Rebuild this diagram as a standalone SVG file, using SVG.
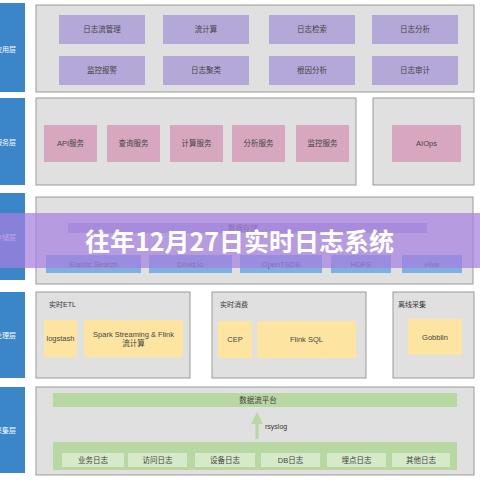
<svg xmlns="http://www.w3.org/2000/svg" width="480" height="480" viewBox="0 0 480 480">
<style>
.layer{fill:#3b86c9}
.lt{fill:#fff;font-family:"Noto Sans CJK SC",sans-serif;font-size:7px;text-anchor:end}
.box{fill:#e0e0e0;stroke:#9a9a9a;stroke-width:1}
.pu{fill:#b4a8d8}
.pk{fill:#d6a7be}
.bl{fill:#7fb0df}
.ye{fill:#fee4a1}
.gr{fill:#b7d7a3}
.lg{fill:#d6e9c9}
.t{fill:#444;font-family:"Liberation Sans","Noto Sans CJK SC",sans-serif;font-size:7.5px;text-anchor:middle;dominant-baseline:central}
.h{fill:#333;font-family:"Liberation Sans","Noto Sans CJK SC",sans-serif;font-size:7px}
</style>
<defs>
<marker id="ah" markerWidth="4" markerHeight="4" refX="2" refY="2" orient="auto" markerUnits="strokeWidth">
<path d="M0,0 L4,2 L0,4 z" fill="#b7d7a3"/>
</marker>
</defs>
<rect width="480" height="480" fill="#fff"/>

<g id="layers">
<rect class="layer" x="-2" y="3" width="27" height="89"/>
<text class="lt" x="16" y="52">应用层</text>
<rect class="layer" x="-2" y="98" width="27" height="87"/>
<text class="lt" x="16" y="145">服务层</text>
<rect class="layer" x="-2" y="193" width="27" height="87"/>
<text class="lt" x="16" y="240">存储层</text>
<rect class="layer" x="-2" y="292" width="27" height="86"/>
<text class="lt" x="16" y="338">处理层</text>
<rect class="layer" x="-2" y="387" width="27" height="86"/>
<text class="lt" x="16" y="433">采集层</text>
</g>

<g id="app">
<rect class="box" x="36" y="5" width="438" height="87"/>
<g id="a1"><rect class="pu" x="59" y="15" width="86" height="29"/><text class="t" x="102" y="29.5">日志流管理</text></g>
<g id="a2"><rect class="pu" x="163" y="15" width="86" height="29"/><text class="t" x="206" y="29.5">流计算</text></g>
<g id="a3"><rect class="pu" x="269" y="15" width="86" height="29"/><text class="t" x="312" y="29.5">日志检索</text></g>
<g id="a4"><rect class="pu" x="372" y="15" width="86" height="29"/><text class="t" x="415" y="29.5">日志分析</text></g>
<g id="a5"><rect class="pu" x="59" y="56" width="86" height="29"/><text class="t" x="102" y="70.5">监控报警</text></g>
<g id="a6"><rect class="pu" x="163" y="56" width="86" height="29"/><text class="t" x="206" y="70.5">日志聚类</text></g>
<g id="a7"><rect class="pu" x="269" y="56" width="86" height="29"/><text class="t" x="312" y="70.5">根因分析</text></g>
<g id="a8"><rect class="pu" x="372" y="56" width="86" height="29"/><text class="t" x="415" y="70.5">日志审计</text></g>
</g>

<g id="service">
<rect class="box" x="36" y="98" width="320" height="87"/>
<g id="s1"><rect class="pk" x="44" y="125" width="53" height="37"/><text class="t" x="70.5" y="143.5">API服务</text></g>
<g id="s2"><rect class="pk" x="107" y="125" width="53" height="37"/><text class="t" x="133.5" y="143.5">查询服务</text></g>
<g id="s3"><rect class="pk" x="170" y="125" width="53" height="37"/><text class="t" x="196.5" y="143.5">计算服务</text></g>
<g id="s4"><rect class="pk" x="232" y="125" width="53" height="37"/><text class="t" x="258.5" y="143.5">分析服务</text></g>
<g id="s5"><rect class="pk" x="296" y="125" width="53" height="37"/><text class="t" x="322.5" y="143.5">监控服务</text></g>
<rect class="box" x="373" y="98" width="101" height="87"/>
<g id="s6"><rect class="pk" x="392" y="125" width="69" height="37"/><text class="t" x="426.5" y="143.5">AIOps</text></g>
</g>

<g id="storage">
<rect class="box" x="36" y="197" width="437" height="87"/>
<rect class="pu" x="68" y="223" width="359" height="10"/>
<text class="t" x="243" y="228">数据存储</text>
<g id="d1"><rect class="bl" x="46" y="255" width="95" height="18"/><text class="t" x="93.5" y="264">Elastic Search</text></g>
<g id="d2"><rect class="bl" x="149" y="255" width="83" height="18"/><text class="t" x="190.5" y="264">Druid.io</text></g>
<g id="d3"><rect class="bl" x="240" y="255" width="82" height="18"/><text class="t" x="281" y="264">OpenTSDB</text></g>
<g id="d4"><rect class="bl" x="331" y="255" width="60" height="18"/><text class="t" x="361" y="264">HDFS</text></g>
<g id="d5"><rect class="bl" x="402" y="255" width="60" height="18"/><text class="t" x="432" y="264">Hive</text></g>
</g>

<g id="process">
<rect class="box" x="36" y="292" width="154" height="86"/>
<text class="h" x="49" y="307">实时ETL</text>
<g id="p1"><rect class="ye" x="44" y="320" width="33" height="37"/><text class="t" x="60.5" y="338.5">logstash</text></g>
<g id="p2"><rect class="ye" x="84" y="320" width="99" height="37"/><text class="t" x="133.5" y="334">Spark Streaming &amp; Flink</text><text class="t" x="133.5" y="343">流计算</text></g>
<rect class="box" x="212" y="292" width="154" height="86"/>
<text class="h" x="220" y="307">实时消费</text>
<g id="p3"><rect class="ye" x="218" y="321" width="34" height="37"/><text class="t" x="235" y="339.5">CEP</text></g>
<g id="p4"><rect class="ye" x="257" y="321" width="99" height="37"/><text class="t" x="306.5" y="339.5">Flink SQL</text></g>
<rect class="box" x="393" y="292" width="81" height="86"/>
<text class="h" x="398" y="307">离线采集</text>
<g id="p5"><rect class="ye" x="408" y="319" width="54" height="36"/><text class="t" x="435" y="337">Gobblin</text></g>
</g>

<g id="collect">
<rect class="box" x="36" y="387" width="438" height="88"/>
<g id="c0"><rect class="gr" x="53" y="393" width="404" height="14"/><text class="t" x="258" y="400">数据流平台</text></g>
<rect class="gr" x="53" y="442" width="404" height="28"/>
<g id="c1"><rect class="lg" x="62" y="453" width="62" height="14"/><text class="t" x="93" y="460">业务日志</text></g>
<g id="c2"><rect class="lg" x="128" y="453" width="59" height="14"/><text class="t" x="157.5" y="460">访问日志</text></g>
<g id="c3"><rect class="lg" x="195" y="453" width="60" height="14"/><text class="t" x="225" y="460">设备日志</text></g>
<g id="c4"><rect class="lg" x="261" y="453" width="59" height="14"/><text class="t" x="290.5" y="460">DB日志</text></g>
<g id="c5"><rect class="lg" x="327" y="453" width="59" height="14"/><text class="t" x="356.5" y="460">埋点日志</text></g>
<g id="c6"><rect class="lg" x="392" y="453" width="58" height="14"/><text class="t" x="421" y="460">其他日志</text></g>
</g>

<g id="connectors">
<line x1="257" y1="439" x2="257" y2="418" stroke="#b7d7a3" stroke-width="3" marker-end="url(#ah)"/>
<text class="h" x="265" y="429">rsyslog</text>
</g>

<g id="banner">
<rect x="0" y="213" width="480" height="55" fill="#a57fe0" opacity="0.72"/>
<text x="85" y="251" fill="#fff" font-family="'Noto Sans CJK SC',sans-serif" font-weight="bold" font-size="25">往年12月27日实时日志系统</text>
</g>
</svg>
